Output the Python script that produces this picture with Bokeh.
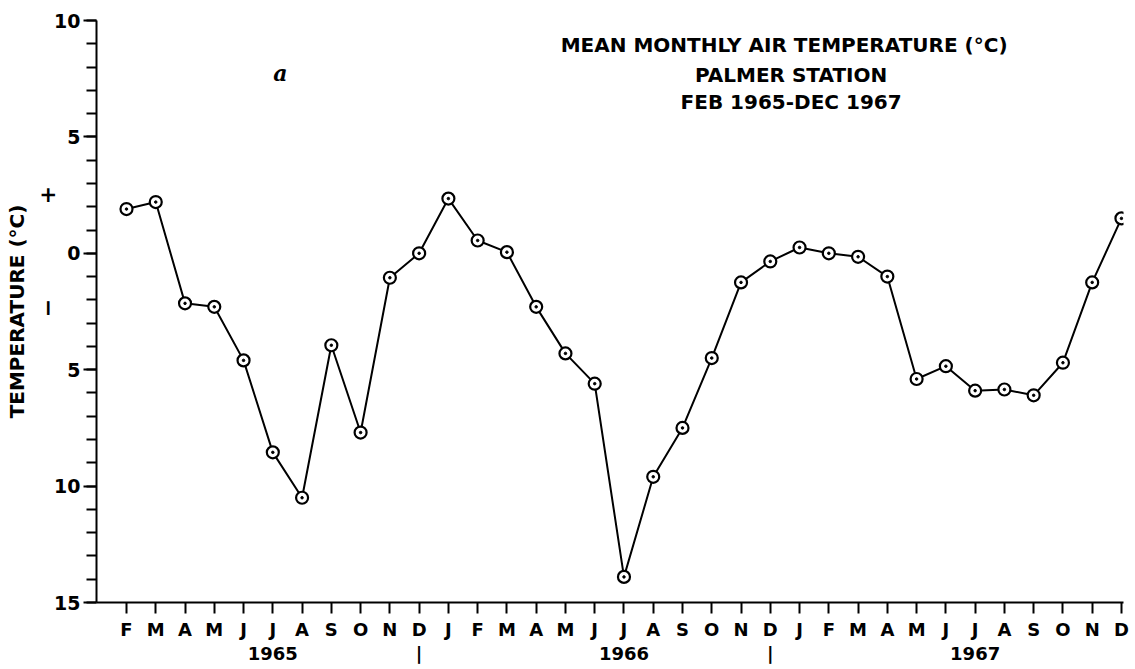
import math
from bokeh.plotting import figure
from bokeh.models import FixedTicker, LinearAxis, Label, Range1d
from bokeh.embed import file_html
from bokeh.resources import INLINE

# ---- data ----
month_labels = ["F", "M", "A", "M", "J", "J", "A", "S", "O", "N", "D",
                "J", "F", "M", "A", "M", "J", "J", "A", "S", "O", "N", "D",
                "J", "F", "M", "A", "M", "J", "J", "A", "S", "O", "N", "D"]
temps = [1.9, 2.2, -2.15, -2.3, -4.6, -8.55, -10.5, -3.95, -7.7, -1.05, 0.0,
         2.35, 0.55, 0.05, -2.3, -4.3, -5.6, -13.9, -9.6, -7.5, -4.5, -1.25, -0.35,
         0.25, 0.0, -0.15, -1.0, -5.4, -4.85, -5.9, -5.85, -6.1, -4.7, -1.25, 1.5]
year_labels = ["1965", "1966", "1967"]
year_ticks = [5, 17, 29]
separator_ticks = [10, 22]
y_ticks = [10, 5, 0, -5, -10, -15]
y_tick_labels = ["10", "5", "0", "5", "10", "15"]
sign_ticks = [2.9, -1.95]
sign_labels = ["+", "−"]
title_lines = ["MEAN  MONTHLY  AIR  TEMPERATURE (°C)", "PALMER  STATION", "FEB  1965-DEC 1967"]

x = list(range(len(temps)))
FONT = "DejaVu Sans"
FS = "bold"

p = figure(width=1135, height=669, output_backend="svg", toolbar_location=None,
           x_range=Range1d(-1.025, 34.07), y_range=Range1d(-15, 10),
           min_border_left=96, min_border_top=20, min_border_right=12, min_border_bottom=67)
p.outline_line_color = None
p.xgrid.grid_line_color = None
p.ygrid.grid_line_color = None
p.background_fill_color = "white"
p.border_fill_color = "white"

# x axis (months)
xa = p.xaxis[0]
xa.ticker = FixedTicker(ticks=x)
xa.major_label_overrides = {i: m for i, m in enumerate(month_labels)}
xa.axis_line_width = 2
xa.axis_line_color = "black"
xa.major_tick_line_width = 2
xa.major_tick_out = 11
xa.major_tick_in = 0
xa.minor_tick_line_color = None
xa.major_label_standoff = 5
xa.major_label_text_font = FONT
xa.major_label_text_font_style = FS
xa.major_label_text_font_size = "18px"
xa.major_label_text_color = "black"

# second axis for years
ya_ticks = sorted(year_ticks + separator_ticks)
ov = {t: l for t, l in zip(year_ticks, year_labels)}
ov.update({t: "|" for t in separator_ticks})
year_axis = LinearAxis(ticker=FixedTicker(ticks=ya_ticks), major_label_overrides=ov,
                       axis_line_color=None, major_tick_line_color=None,
                       minor_tick_line_color=None, major_label_standoff=0,
                       major_tick_out=0, major_tick_in=0,
                       major_label_text_font=FONT, major_label_text_font_style=FS,
                       major_label_text_font_size="18px",
                       major_label_text_color="black")
p.add_layout(year_axis, "below")

# y axis
yax = p.yaxis[0]
yax.ticker = FixedTicker(ticks=y_ticks, minor_ticks=list(range(-15, 11)))
yax.major_label_overrides = {t: l for t, l in zip(y_ticks, y_tick_labels)}
yax.axis_line_width = 2
yax.axis_line_color = "black"
yax.major_tick_line_width = 2
yax.major_tick_out = 13
yax.major_tick_in = 0
yax.minor_tick_line_width = 2
yax.minor_tick_line_color = "black"
yax.minor_tick_out = 10
yax.minor_tick_in = 0
yax.major_label_standoff = 3
yax.major_label_text_font = FONT
yax.major_label_text_font_style = FS
yax.major_label_text_font_size = "19px"
yax.major_label_text_color = "black"

# outer left axis carrying the +/- signs and the axis title
sign_axis = LinearAxis(ticker=FixedTicker(ticks=sign_ticks),
                       major_label_overrides={t: l for t, l in zip(sign_ticks, sign_labels)},
                       axis_line_color=None, major_tick_line_color=None,
                       minor_tick_line_color=None, major_tick_out=0, major_tick_in=0,
                       major_label_standoff=4, major_label_orientation=math.pi / 2,
                       major_label_text_font=FONT, major_label_text_font_style=FS,
                       major_label_text_font_size="22px", major_label_text_color="black",
                       axis_label="TEMPERATURE (°C)", axis_label_text_font=FONT,
                       axis_label_text_font_size="20px", axis_label_text_font_style=FS,
                       axis_label_text_color="black", axis_label_standoff=0)
p.add_layout(sign_axis, "left")

# data
p.line(x, temps, line_width=2, line_color="black")
p.scatter(x, temps, marker="circle", size=12, fill_color="white", line_color="black", line_width=2.2)
p.scatter(x, temps, marker="circle", size=2.5, fill_color="black", line_color="black")

# title block
for i, t in enumerate(title_lines):
    p.add_layout(Label(x=22.83, y=[8.93, 7.64, 6.52][i], text=t, text_align="center",
                       text_baseline="middle", text_font=FONT, text_font_style=FS,
                       text_font_size="20px", text_color="black"))

# panel letter
p.add_layout(Label(x=5.26, y=7.73, text="a", text_align="center", text_baseline="middle",
                   text_font="DejaVu Serif", text_font_style="bold italic",
                   text_font_size="22px", text_color="black"))

open("out.html", "w").write(file_html(p, INLINE))
